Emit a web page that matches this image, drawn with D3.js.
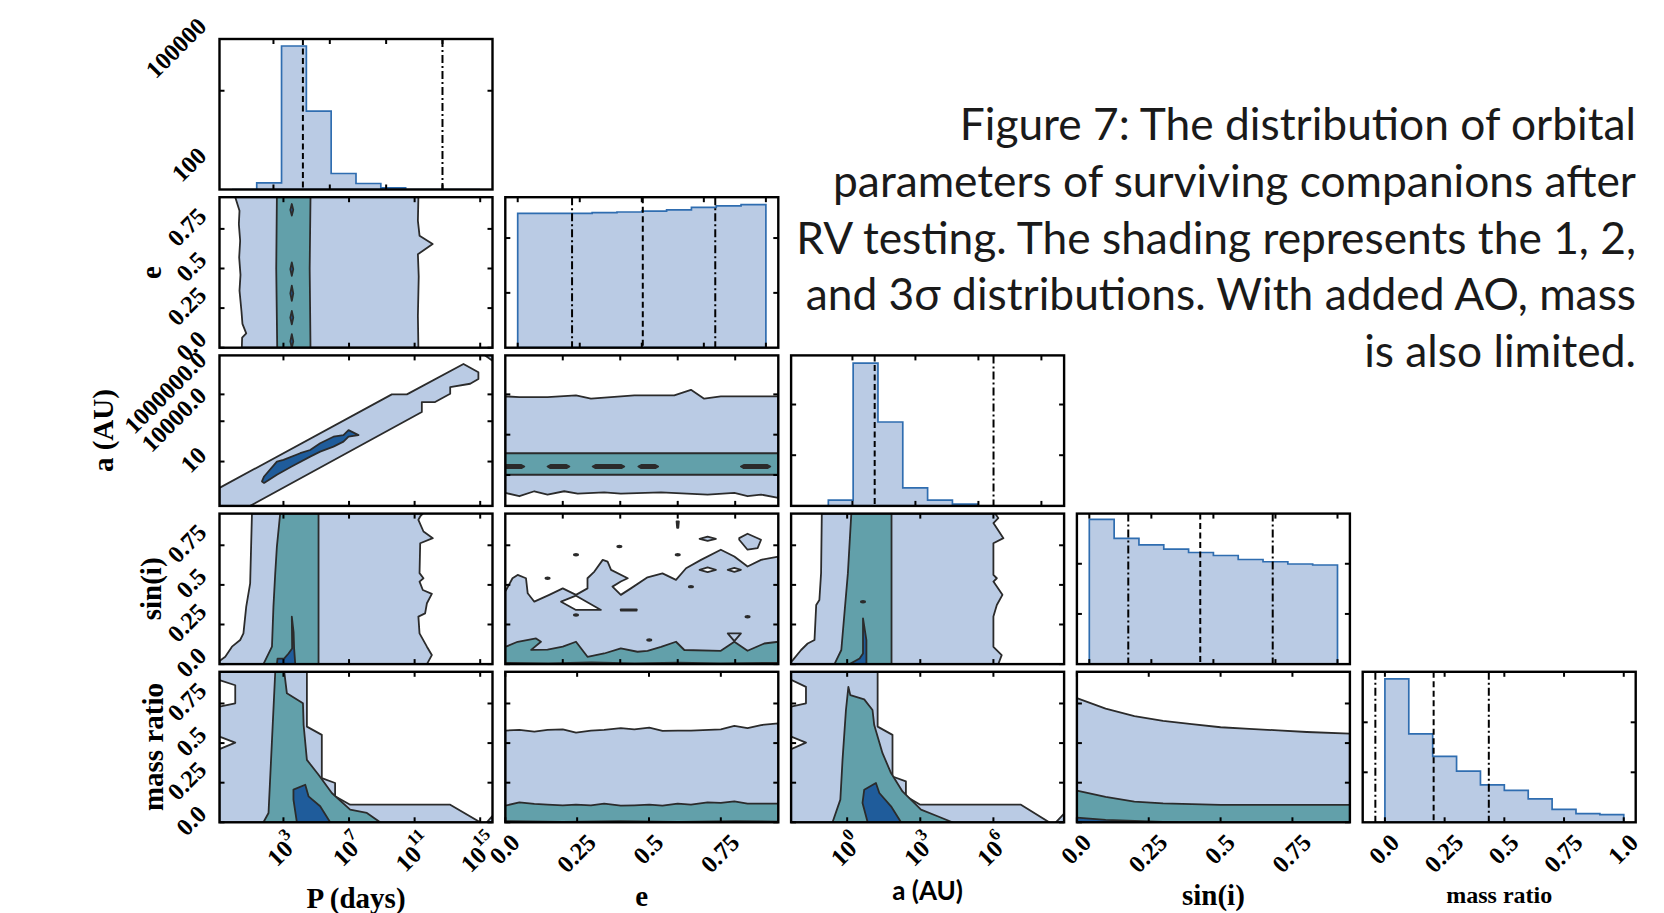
<!DOCTYPE html>
<html>
<head>
<meta charset="utf-8">
<script src="https://cdn.jsdelivr.net/npm/d3@7/dist/d3.min.js"></script>
<style>
  body { margin: 0; background: #fff; }
  svg { display: block; }
  .tl { font-family: "Liberation Serif", serif; font-weight: bold; font-size: 24.5px; fill: #000; }
  .axt { font-family: "Liberation Serif", serif; font-weight: bold; font-size: 29px; fill: #000; }
  .cap { font-family: Lato, "Open Sans", sans-serif; font-size: 44.3px; fill: #1a1a1a; }
</style>
</head>
<body>
<svg id="chart" width="1664" height="913"></svg>
<script>
// ---------------- data ----------------
var varNames = ["P (days)", "e", "a (AU)", "sin(i)", "mass ratio"];

// ranges of the 2-d panels, P and a are log10 values
var logPRange = [-0.9, 15.75];
var eRange = [0, 0.95];
var logARange = [-2.3, 8.9];
var sinRange = [0, 0.95];
var qRange = [0, 0.95];

// histograms (10 bins over the span)
var pHistSpan = [0.05, 17.67];
var pHistCounts = [0, 1340, 29060, 15880, 3245, 1217, 325, 0, 0, 0];
var pHistMax = 30480;
var pHistYTicks = [20000];
var pHistYLabels = [[4700, "100"], [28300, "100000"]];
var pHistXTicks = [3, 7, 11, 15];
var pMedian = 5.09;
var pQuant = [15.0];

var eHistSpan = [0, 1];
var eHistCounts = [4900, 4900, 4900, 4930, 4950, 4980, 5030, 5120, 5170, 5220];
var eHistMax = 5490;
var eHistYTicks = [2000, 4000];
var eHistXTicks = [0, 0.25, 0.5, 0.75, 1];
var eMedian = 0.504;
var eQuant = [0.219, 0.796];

var aHistSpan = [-2.33, 9.49];
var aHistCounts = [0, 1120, 28170, 16550, 3550, 1120, 335, 0, 0, 0];
var aHistMax = 29690;
var aHistYTicks = [10000, 20000];
var aHistXTicks = [0, 3, 6, 9];
var aMedian = 1.06;
var aQuant = [6.72];

var sinHistSpan = [0, 1];
var sinHistCounts = [5770, 5010, 4750, 4580, 4450, 4330, 4170, 4080, 3990, 3950];
var sinHistMax = 6000;
var sinHistYTicks = [2000, 4000];
var sinHistXTicks = [0, 0.25, 0.5, 0.75, 1];
var sinMedian = 0.447;
var sinQuant = [0.157, 0.739];

var qHistSpan = [0, 1];
var qHistRange = [-0.093, 1.05];
var qHistCounts = [5740, 3540, 2640, 2050, 1500, 1280, 940, 520, 350, 310];
var qHistMax = 6020;
var qHistYTicks = [2000, 4000];
var qHistXTicks = [0, 0.25, 0.5, 0.75, 1];
var qHistLabels = ["0.0", "0.25", "0.5", "0.75", "1.0"];
var qMedian = 0.204;
var qQuant = [-0.04, 0.435];

// ticks of the 2-d panels
var pTicks = [3, 7, 11, 15];
var aTicksX = [0, 3, 6];
var aTicksYLeft = [1, 4, 6];
var aTickLabelsLeft = ["10", "10000.0", "1000000.0"];
var aTicksYMid = [0, 3, 6];
var fracTicks = [0, 0.25, 0.5, 0.75];
var fracLabels = ["0.0", "0.25", "0.5", "0.75"];
var eTicksUpper = [0.2, 0.4, 0.6, 0.8];

// contour regions: [level, polygon]  level 0 = hole, 1..3 = 3,2,1 sigma, 4 = ink blob
var contEP = [
  [1, [[0.06,0.95],[0.32,0.865],[0.28,0.78],[0.36,0.675],[0.30,0.57],[0.38,0.46],[0.32,0.36],[0.44,0.23],[0.50,0.15],[0.73,0.09],[0.48,0.063],[0.46,0],[11.23,0],[11.2,0.2],[11.25,0.45],[11.2,0.59],[12.1,0.654],[11.3,0.707],[11.2,0.8],[11.23,0.95]]],
  [2, [[2.6,0.95],[2.56,0.5],[2.62,0],[4.65,0],[4.6,0.5],[4.65,0.95]]],
  [3, [[3.51,0.907],[3.6,0.87],[3.51,0.834],[3.42,0.87]]],
  [3, [[3.51,0.538],[3.6,0.496],[3.51,0.454],[3.42,0.496]]],
  [3, [[3.51,0.391],[3.6,0.343],[3.51,0.296],[3.42,0.343]]],
  [3, [[3.51,0.232],[3.6,0.19],[3.51,0.148],[3.42,0.19]]],
  [3, [[3.51,0.085],[3.6,0.04],[3.51,0],[3.42,0.04]]]
];
var contAP = [
  [1, [[-0.9,-0.96],[9.61,6.0],[10.53,6.0],[13.98,8.26],[14.89,7.64],[14.89,7.15],[14.39,6.79],[13.17,6.54],[13.17,6.05],[12.25,5.43],[11.44,5.43],[11.44,4.69],[0.97,-2.3],[-0.9,-2.3]]],
  [1, [[15.3,8.9],[15.75,8.9],[15.75,8.5]]],
  [3, [[1.69,-0.48],[1.82,-0.11],[2.6,1.0],[3.0,1.13],[4.02,1.62],[4.63,1.86],[5.24,2.36],[6.05,2.85],[6.66,2.97],[6.97,3.34],[7.58,2.97],[6.97,2.85],[6.66,2.48],[6.05,2.11],[5.24,1.74],[4.63,1.37],[3.5,0.63],[2.6,0.02],[1.82,-0.59]]]
];
var contAE = [
  [1, [[0,5.85],[0.049,5.8],[0.147,5.8],[0.246,5.92],[0.298,5.68],[0.449,5.92],[0.588,5.92],[0.646,6.34],[0.692,5.68],[0.75,5.85],[0.95,5.85],[0.95,-1.7],[0.89,-1.46],[0.843,-1.58],[0.797,-1.33],[0.704,-1.46],[0.542,-1.29],[0.402,-1.38],[0.344,-1.29],[0.252,-1.38],[0.205,-1.21],[0.147,-1.46],[0.101,-1.21],[0.049,-1.58],[0,-1.33]]],
  [2, [[0,1.62],[0.95,1.62],[0.95,0.02],[0,0.02]]],
  [4, [[-0.01,0.63],[0.0,0.75],[0.056,0.75],[0.066,0.63],[0.056,0.51],[0.0,0.51]]],
  [4, [[0.147,0.63],[0.157,0.75],[0.213,0.75],[0.223,0.63],[0.213,0.51],[0.157,0.51]]],
  [4, [[0.304,0.63],[0.314,0.75],[0.404,0.75],[0.414,0.63],[0.404,0.51],[0.314,0.51]]],
  [4, [[0.463,0.63],[0.473,0.75],[0.522,0.75],[0.532,0.63],[0.522,0.51],[0.473,0.51]]],
  [4, [[0.82,0.63],[0.83,0.75],[0.912,0.75],[0.922,0.63],[0.912,0.51],[0.83,0.51]]]
];
var contSP = [
  [1, [[1.08,0.95],[0.97,0.51],[0.73,0.363],[0.56,0.194],[0.36,0.152],[-0.14,0.11],[-0.55,0.046],[-0.9,0.02],[-0.9,0],[11.75,0],[12.05,0.057],[11.75,0.11],[11.3,0.194],[11.23,0.3],[11.64,0.32],[11.75,0.384],[12.05,0.443],[11.5,0.468],[11.3,0.521],[11.54,0.542],[11.3,0.574],[11.34,0.763],[12.11,0.795],[11.54,0.837],[11.23,0.911],[11.34,0.932],[11.5,0.95]]],
  [2, [[2.8,0.95],[2.6,0.742],[2.5,0.574],[2.39,0.363],[2.3,0.11],[1.78,0],[5.14,0],[5.14,0.95]]],
  [3, [[2.6,0],[2.64,0.035],[3.04,0.035],[3.31,0.067],[3.53,0.099],[3.51,0.3],[3.62,0.2],[3.65,0.1],[3.72,0]]]
];
var contSE = [
  [1, [[0,0.458],[0.025,0.542],[0.043,0.563],[0.072,0.542],[0.078,0.447],[0.101,0.394],[0.153,0.437],[0.2,0.478],[0.246,0.437],[0.286,0.478],[0.286,0.542],[0.31,0.584],[0.339,0.658],[0.356,0.647],[0.368,0.595],[0.426,0.542],[0.402,0.521],[0.373,0.489],[0.402,0.437],[0.437,0.478],[0.495,0.548],[0.547,0.573],[0.594,0.532],[0.629,0.605],[0.681,0.658],[0.75,0.722],[0.797,0.679],[0.843,0.616],[0.89,0.658],[0.95,0.679],[0.95,0],[0,0]]],
  [0, [[0.194,0.394],[0.246,0.432],[0.333,0.342],[0.246,0.342]]],
  [1, [[0.814,0.795],[0.843,0.823],[0.89,0.785],[0.878,0.732],[0.843,0.722],[0.814,0.785]]],
  [1, [[0.676,0.791],[0.704,0.805],[0.733,0.791],[0.704,0.778]]],
  [0, [[0.676,0.595],[0.704,0.61],[0.733,0.595],[0.704,0.58]]],
  [0, [[0.774,0.595],[0.797,0.608],[0.82,0.595],[0.797,0.582]]],
  [2, [[0,0.109],[0.043,0.141],[0.107,0.162],[0.124,0.141],[0.09,0.09],[0.147,0.092],[0.2,0.11],[0.246,0.141],[0.286,0.046],[0.344,0.067],[0.402,0.099],[0.46,0.078],[0.495,0.084],[0.542,0.109],[0.594,0.141],[0.623,0.089],[0.75,0.084],[0.797,0.141],[0.843,0.084],[0.901,0.13],[0.95,0.141],[0.95,0],[0,0]]],
  [1, [[0.774,0.194],[0.82,0.194],[0.797,0.145]]],
  [3, [[0,0],[0,0.008],[0.15,0.004],[0.3,0.01],[0.45,0.004],[0.6,0.009],[0.75,0.004],[0.95,0.008],[0.95,0]]],
  [4, [[0.596,0.9],[0.604,0.9],[0.602,0.86],[0.598,0.86]]],
  [4, [[0.402,0.346],[0.457,0.346],[0.457,0.338],[0.402,0.338]]]
];
var dotsSE = [[0.147,0.542],[0.246,0.69],[0.397,0.742],[0.6,0.69],[0.646,0.489],[0.246,0.31],[0.501,0.152],[0.843,0.299]];
var contSA = [
  [1, [[-1.04,0.95],[-1.07,0.574],[-1.14,0.405],[-1.27,0.373],[-1.34,0.152],[-1.62,0.13],[-1.89,0.089],[-2.23,0.025],[-2.3,0.015],[-2.3,0],[6.2,0],[6.34,0.057],[6.0,0.109],[6.0,0.3],[6.14,0.373],[6.37,0.437],[6.0,0.521],[6.14,0.542],[6.0,0.563],[6.0,0.763],[6.41,0.795],[6.0,0.89],[6.2,0.922],[6.07,0.95]]],
  [2, [[0.17,0.95],[0.03,0.574],[-0.24,0.089],[-0.52,0],[1.82,0],[1.82,0.95]]],
  [3, [[0.1,0],[0.51,0.035],[0.65,0.067],[0.65,0.289],[0.79,0.152],[0.79,0]]]
];
var dotsSA = [[0.65,0.394]];
var contQP = [
  [1, [[-0.9,0.95],[4.43,0.95],[4.43,0.604],[5.34,0.552],[5.34,0.279],[6.15,0.248],[6.15,0.164],[7.07,0.111],[13.17,0.111],[15.0,0],[-0.9,0]]],
  [0, [[-0.9,0.897],[0.06,0.865],[0.06,0.751],[-0.9,0.73]]],
  [0, [[-0.9,0.541],[0.06,0.503],[-0.9,0.462]]],
  [1, [[15.4,0],[15.75,0.04],[15.75,0]]],
  [2, [[2.5,0.95],[3.05,0.95],[3.21,0.814],[4.19,0.751],[4.23,0.614],[4.43,0.394],[5.14,0.3],[5.95,0.185],[7.07,0.08],[8.09,0.059],[8.9,0],[1.78,0],[2.09,0.059]]],
  [3, [[3.61,0.206],[4.33,0.237],[4.53,0.164],[5.24,0.101],[5.85,0],[3.82,0],[3.61,0.143]]]
];
var contQE = [
  [1, [[0,0.579],[0.049,0.583],[0.101,0.572],[0.147,0.583],[0.2,0.587],[0.246,0.566],[0.298,0.579],[0.344,0.583],[0.402,0.594],[0.449,0.587],[0.501,0.597],[0.547,0.577],[0.6,0.579],[0.646,0.579],[0.75,0.587],[0.797,0.608],[0.843,0.594],[0.89,0.614],[0.95,0.625],[0.95,0],[0,0]]],
  [2, [[0,0.105],[0.049,0.126],[0.101,0.116],[0.147,0.111],[0.2,0.107],[0.246,0.111],[0.298,0.107],[0.344,0.118],[0.402,0.105],[0.449,0.107],[0.501,0.111],[0.547,0.105],[0.6,0.118],[0.646,0.111],[0.704,0.126],[0.75,0.122],[0.797,0.132],[0.843,0.118],[0.95,0.118],[0.95,0],[0,0]]],
  [3, [[0,0],[0,0.007],[0.2,0.003],[0.4,0.008],[0.6,0.003],[0.8,0.007],[0.95,0.004],[0.95,0]]]
];
var contQA = [
  [1, [[-2.3,0.95],[1.25,0.95],[1.25,0.604],[1.86,0.552],[1.86,0.289],[2.41,0.258],[2.41,0.164],[3.0,0.111],[7.13,0.111],[8.29,0],[-2.3,0]]],
  [0, [[-2.3,0.9],[-1.69,0.855],[-1.69,0.751],[-2.3,0.73]]],
  [0, [[-2.3,0.541],[-1.69,0.503],[-2.3,0.462]]],
  [1, [[8.56,0],[8.9,0.055],[8.9,0]]],
  [2, [[0.05,0.855],[0.13,0.803],[0.7,0.776],[1.04,0.709],[1.11,0.614],[1.45,0.436],[1.8,0.311],[2.27,0.195],[3.03,0.08],[3.71,0.038],[4.32,0],[-0.6,0],[-0.28,0.143],[-0.19,0.394],[-0.05,0.709]]],
  [3, [[0.7,0.206],[1.18,0.248],[1.32,0.185],[1.8,0.101],[2.21,0],[0.84,0],[0.63,0.122]]]
];
var contQS = [
  [1, [[0,0.784],[0.1,0.718],[0.2,0.67],[0.3,0.64],[0.4,0.62],[0.5,0.6],[0.6,0.59],[0.7,0.58],[0.8,0.57],[0.95,0.56],[0.95,0],[0,0]]],
  [2, [[0,0.2],[0.1,0.16],[0.2,0.13],[0.3,0.12],[0.5,0.11],[0.95,0.11],[0.95,0],[0,0]]],
  [3, [[0,0.03],[0.1,0.015],[0.25,0.005],[0.35,0],[0,0]]]
];

var captionLines = [
  "Figure 7: The distribution of orbital",
  "parameters of surviving companions after",
  "RV testing. The shading represents the 1, 2,",
  "and 3\u03c3 distributions. With added AO, mass",
  "is also limited."
];

// ---------------- layout ----------------
var PW = 273, PH = 150.5;
var FS = 24.5;
function colLeft(i) { return 219.5 + i * 285.8; }
function rowTop(j) { return 39 + j * 158.2; }
var ranges = [logPRange, eRange, logARange, sinRange, qRange];
var levelFill = ["#ffffff", "#bacbe4", "#62a0aa", "#1f5c9b", "#2b2b2b"];
var ink = "#2b2b2b";

var svg = d3.select("#chart");
var defs = svg.append("defs");

function panelGroup(r, c) {
  var id = "clip" + r + c;
  defs.append("clipPath").attr("id", id).append("rect")
    .attr("x", colLeft(c)).attr("y", rowTop(r)).attr("width", PW).attr("height", PH);
  var g = svg.append("g");
  var inner = g.append("g").attr("clip-path", "url(#" + id + ")");
  return {g: g, inner: inner};
}

function frameAndTicks(g, r, c, x, y, xt, yt) {
  var x0 = colLeft(c), y0 = rowTop(r), len = 5;
  var tg = g.append("g").attr("stroke", "#000").attr("stroke-width", 2);
  xt.forEach(function(v) {
    var px = x(v);
    tg.append("line").attr("x1", px).attr("x2", px).attr("y1", y0 + PH).attr("y2", y0 + PH - len);
    tg.append("line").attr("x1", px).attr("x2", px).attr("y1", y0).attr("y2", y0 + len);
  });
  yt.forEach(function(v) {
    var py = y(v);
    tg.append("line").attr("x1", x0).attr("x2", x0 + len).attr("y1", py).attr("y2", py);
    tg.append("line").attr("x1", x0 + PW).attr("x2", x0 + PW - len).attr("y1", py).attr("y2", py);
  });
  g.append("rect").attr("x", x0).attr("y", y0).attr("width", PW).attr("height", PH)
    .attr("fill", "none").attr("stroke", "#000").attr("stroke-width", 2.4);
}

function makeLabel(parts) {
  var t = svg.append("text").attr("class", "tl")
    .attr("text-anchor", "middle").attr("dominant-baseline", "central");
  if (Array.isArray(parts)) {
    t.append("tspan").text(parts[0]);
    t.append("tspan").attr("dy", -0.4 * FS).attr("font-size", 0.7 * FS).text(parts[1]);
  } else {
    t.text(parts);
  }
  return t;
}
function yTickLabel(axisX, py, parts) {
  var t = makeLabel(parts);
  var w = (t.node().getComputedTextLength() + 0.66 * FS) * 0.7071;
  t.attr("transform", "translate(" + (axisX - 12 - w / 2) + "," + (py - 2) + ") rotate(-45)");
}
function xTickLabel(px, axisY, parts) {
  var t = makeLabel(parts);
  var w = (t.node().getComputedTextLength() + 0.66 * FS) * 0.7071;
  t.attr("transform", "translate(" + (px - 1) + "," + (axisY + 10 + w / 2) + ") rotate(-45)");
}

// ---------------- 2-d panels ----------------
var panels2D = [
  {r: 1, c: 0, cont: contEP}, {r: 2, c: 0, cont: contAP}, {r: 2, c: 1, cont: contAE},
  {r: 3, c: 0, cont: contSP}, {r: 3, c: 1, cont: contSE, dots: dotsSE}, {r: 3, c: 2, cont: contSA, dots: dotsSA},
  {r: 4, c: 0, cont: contQP}, {r: 4, c: 1, cont: contQE}, {r: 4, c: 2, cont: contQA}, {r: 4, c: 3, cont: contQS}
];

function xTicksFor(r, c) {
  if (c === 0) return pTicks;
  if (c === 1) return r === 4 ? fracTicks : eTicksUpper;
  if (c === 2) return aTicksX;
  return fracTicks;
}
function yTicksFor(r, c) {
  if (r === 2) return c === 0 ? aTicksYLeft : aTicksYMid;
  return fracTicks;
}

panels2D.forEach(function(p) {
  var x = d3.scaleLinear().domain(ranges[p.c]).range([colLeft(p.c), colLeft(p.c) + PW]);
  var y = d3.scaleLinear().domain(ranges[p.r]).range([rowTop(p.r) + PH, rowTop(p.r)]);
  var pg = panelGroup(p.r, p.c);
  var line = d3.line().x(function(d) { return x(d[0]); }).y(function(d) { return y(d[1]); });
  pg.inner.selectAll("path.cont").data(p.cont).enter().append("path")
    .attr("class", "cont")
    .attr("d", function(d) { return line(d[1]) + "Z"; })
    .attr("fill", function(d) { return levelFill[d[0]]; })
    .attr("stroke", ink).attr("stroke-width", 1.8).attr("stroke-linejoin", "round");
  if (p.dots) {
    pg.inner.selectAll("ellipse").data(p.dots).enter().append("ellipse")
      .attr("cx", function(d) { return x(d[0]); }).attr("cy", function(d) { return y(d[1]); })
      .attr("rx", 3).attr("ry", 1.7).attr("fill", ink);
  }
  frameAndTicks(pg.g, p.r, p.c, x, y, xTicksFor(p.r, p.c), yTicksFor(p.r, p.c));

  if (p.r === 4) {
    xTicksFor(p.r, p.c).forEach(function(v, i) {
      var lab = (p.c === 0 || p.c === 2) ? ["10", String(v)] : fracLabels[i];
      xTickLabel(x(v), rowTop(4) + PH, lab);
    });
  }
  if (p.c === 0) {
    yTicksFor(p.r, p.c).forEach(function(v, i) {
      var lab = p.r === 2 ? aTickLabelsLeft[i] : fracLabels[i];
      yTickLabel(colLeft(0), y(v), lab);
    });
  }
});

// ---------------- histograms ----------------
var hists = [
  {k: 0, span: pHistSpan, counts: pHistCounts, ymax: pHistMax, xt: pHistXTicks, yt: pHistYTicks, med: pMedian, qs: pQuant},
  {k: 1, span: eHistSpan, counts: eHistCounts, ymax: eHistMax, xt: eHistXTicks, yt: eHistYTicks, med: eMedian, qs: eQuant},
  {k: 2, span: aHistSpan, counts: aHistCounts, ymax: aHistMax, xt: aHistXTicks, yt: aHistYTicks, med: aMedian, qs: aQuant},
  {k: 3, span: sinHistSpan, counts: sinHistCounts, ymax: sinHistMax, xt: sinHistXTicks, yt: sinHistYTicks, med: sinMedian, qs: sinQuant},
  {k: 4, span: qHistSpan, counts: qHistCounts, ymax: qHistMax, xt: qHistXTicks, yt: qHistYTicks, med: qMedian, qs: qQuant, range: qHistRange}
];

hists.forEach(function(h) {
  var lo = h.span[0], hi = h.span[1], pad = 0.05 * (hi - lo);
  var dom = h.range || [lo - pad, hi + pad];
  var x = d3.scaleLinear().domain(dom).range([colLeft(h.k), colLeft(h.k) + PW]);
  var y = d3.scaleLinear().domain([0, h.ymax]).range([rowTop(h.k) + PH, rowTop(h.k)]);
  var n = h.counts.length, bw = (hi - lo) / n;
  var pts = [[lo, 0]];
  h.counts.forEach(function(c, i) { pts.push([lo + i * bw, c]); pts.push([lo + (i + 1) * bw, c]); });
  pts.push([hi, 0]);
  var pg = panelGroup(h.k, h.k);
  var line = d3.line().x(function(d) { return x(d[0]); }).y(function(d) { return y(d[1]); });
  pg.inner.append("path").attr("d", line(pts) + "Z")
    .attr("fill", "#bacbe4").attr("stroke", "#2f6db0").attr("stroke-width", 1.7).attr("stroke-linejoin", "miter");
  var vl = [[h.med, "6,3.5"]].concat(h.qs.map(function(q) { return [q, "8,3,2,3"]; }));
  vl.forEach(function(v) {
    pg.inner.append("line").attr("x1", x(v[0])).attr("x2", x(v[0]))
      .attr("y1", rowTop(h.k)).attr("y2", rowTop(h.k) + PH)
      .attr("stroke", "#000").attr("stroke-width", 2).attr("stroke-dasharray", v[1]);
  });
  frameAndTicks(pg.g, h.k, h.k, x, y, h.xt, h.yt);
  if (h.k === 0) {
    pHistYLabels.forEach(function(l) { yTickLabel(colLeft(0), y(l[0]), l[1]); });
  }
  if (h.k === 4) {
    h.xt.forEach(function(v, i) { xTickLabel(x(v), rowTop(4) + PH, qHistLabels[i]); });
  }
});

// ---------------- axis titles ----------------
var xTitleY = [908, 906, 900, 905, 903];
varNames.forEach(function(name, i) {
  var t = svg.append("text").attr("class", "axt").attr("text-anchor", "middle")
    .attr("x", colLeft(i) + PW / 2).attr("y", xTitleY[i]).text(name);
  if (i === 2) t.style("font-family", "Lato, sans-serif").style("font-size", "26px");
  if (i === 4) t.style("font-size", "24px");
});
var yTitleX = [0, 161, 113, 161, 163];
varNames.forEach(function(name, i) {
  if (i === 0) return;
  var cy = rowTop(i) + PH / 2;
  svg.append("text").attr("class", "axt").attr("text-anchor", "middle")
    .attr("transform", "translate(" + yTitleX[i] + "," + cy + ") rotate(-90)").text(name);
});

// ---------------- caption ----------------
svg.selectAll("text.cap").data(captionLines).enter().append("text")
  .attr("class", "cap").attr("text-anchor", "end")
  .attr("x", 1636).attr("y", function(d, i) { return 140 + i * 56.8; })
  .text(function(d) { return d; });
</script>
</body>
</html>
